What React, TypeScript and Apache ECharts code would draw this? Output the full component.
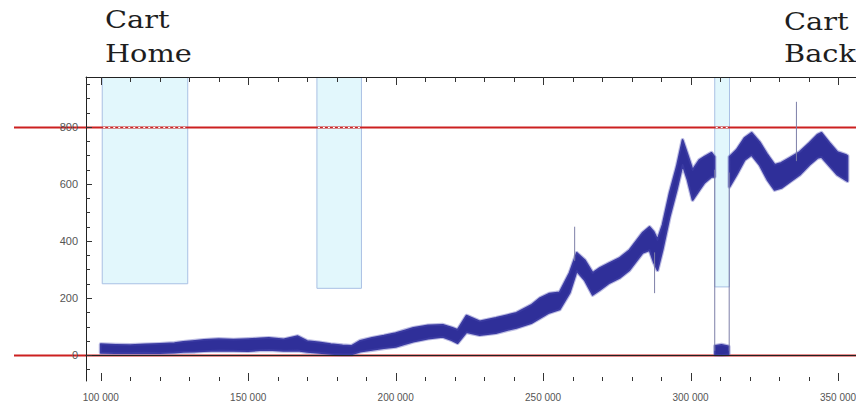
import React, { useEffect, useRef } from 'react';
import * as echarts from 'echarts';

// ---- axis ticks / labels ----
const xMajorTicks = [100000, 150000, 200000, 250000, 300000, 350000];
const xMinorTicks = [110000, 120000, 130000, 140000, 160000, 170000, 180000, 190000, 210000, 220000, 230000, 240000, 260000, 270000, 280000, 290000, 310000, 320000, 330000, 340000];
const yMajorTicks = [0, 200, 400, 600, 800];
const yMinorTicks = [-50, 50, 100, 150, 250, 300, 350, 450, 500, 550, 650, 700, 750, 850, 900, 950];

// ---- main band (lower / upper envelope of the noisy trace) ----
const seg1X = [100000, 105000, 110000, 115000, 120000, 125000, 128000, 132000, 135000, 140000, 145000, 150000, 154000, 157000, 162000, 166800, 170000, 174000, 178000, 182000, 185000, 188000, 192000, 196000, 200000, 203000, 206000, 211000, 216000, 219000, 221000, 224000, 228500, 234000, 238000, 241000, 246000, 249000, 252000, 255600, 259000, 261400, 264100, 266800, 269200, 272500, 275900, 279300, 283700, 286100, 287500, 288800, 290500, 292900, 295300, 297300, 299000, 300700, 303000, 304700, 307100, 308100];
const seg1Lo = [8, 7, 7, 8, 7, 9, 11, 12, 14, 16, 15, 14, 17, 18, 15, 16, 11, 8, 4, 2, 2, 12, 18, 24, 29, 38, 47, 58, 64, 52, 42, 80, 70, 77, 88, 95, 112, 130, 148, 160, 218, 295, 263, 211, 228, 253, 270, 298, 358, 368, 326, 298, 368, 484, 579, 667, 614, 544, 579, 604, 625, 625];
const seg1Hi = [38, 36, 35, 37, 39, 42, 46, 50, 53, 56, 54, 56, 58, 60, 55, 66, 49, 44, 38, 34, 32, 50, 60, 68, 77, 86, 95, 104, 106, 96, 88, 138, 118, 130, 140, 148, 175, 200, 215, 220, 288, 358, 333, 288, 305, 323, 340, 368, 428, 449, 432, 404, 456, 568, 660, 754, 702, 649, 684, 695, 709, 695];

const seg2X = [308300, 310500, 312900];
const seg2Lo = [2, 0, 3];
const seg2Hi = [32, 36, 30];

const seg3X = [313200, 315600, 318300, 320700, 323400, 326100, 328500, 330800, 333600, 337000, 340300, 343000, 344400, 347100, 349800, 352600, 353200];
const seg3Lo = [590, 632, 684, 702, 667, 614, 579, 586, 607, 632, 667, 691, 695, 663, 632, 614, 610];
const seg3Hi = [695, 719, 761, 779, 747, 702, 667, 674, 691, 712, 744, 772, 779, 744, 712, 702, 698];

// ---- thin single-sample excursions ----
const spikeX = [260700, 287800, 335900, 308200, 313100];
const spikeFrom = [330, 360, 680, 650, 15];
const spikeTo = [450, 217, 888, 15, 640];

// ---- shaded windows ----
const rectStart = [100500, 173300, 308200];
const rectEnd = [129500, 188400, 313200];
const rectBottom = [250, 234, 239];

// ---- reference levels ----
const refLevels = [0, 800];

const X_MIN = 95000;
const X_MAX = 356100;
const Y_MIN = -91;
const Y_MAX = 975;

const segments = [
  { x: seg1X, lo: seg1Lo, hi: seg1Hi },
  { x: seg2X, lo: seg2Lo, hi: seg2Hi },
  { x: seg3X, lo: seg3Lo, hi: seg3Hi },
];

const fmtX = (v: number) => String(v).replace(/\B(?=(\d{3})+(?!\d))/g, ' ');

const axisColor = '#222';
const tickColor = '#333';

// tick marks drawn through the axes' own scales
function tickSeries(values: number[], dir: 'bottom' | 'top' | 'left', len: number) {
  return {
    type: 'custom', z: 6, clip: false, silent: true,
    xAxisIndex: 0, yAxisIndex: 0,
    data: values.map((v) => (dir === 'left' ? [X_MIN, v] : [v, dir === 'bottom' ? Y_MIN : Y_MAX])),
    encode: { x: 0, y: 1 },
    renderItem: (params: any, api: any) => {
      const v = values[params.dataIndex];
      if (dir === 'left') {
        const p = api.coord([X_MIN, v]);
        const y = Math.round(p[1]) + 0.5;
        return { type: 'line', shape: { x1: p[0], y1: y, x2: p[0] + len, y2: y }, style: { stroke: tickColor, lineWidth: 1 } };
      }
      const p = api.coord([v, dir === 'bottom' ? Y_MIN : Y_MAX]);
      const x = Math.round(p[0]) + 0.5;
      const sgn = dir === 'bottom' ? -1 : 1;
      return { type: 'line', shape: { x1: x, y1: p[1], x2: x, y2: p[1] + sgn * len }, style: { stroke: tickColor, lineWidth: 1 } };
    },
  };
}

export default function App() {
  const ref = useRef<HTMLDivElement>(null);
  useEffect(() => {
    const chart = echarts.init(ref.current!, null, { renderer: 'svg' });
    const option: any = {
      animation: false,
      backgroundColor: '#ffffff',
      grid: { left: 86, right: 0, top: 77, bottom: 30, containLabel: false, outerBoundsMode: 'none' },
      xAxis: [
        {
          type: 'value', min: X_MIN, max: X_MAX, position: 'bottom', z: 5,
          axisLine: { show: true, lineStyle: { color: axisColor, width: 1 } },
          axisTick: { show: false },
          axisLabel: { show: true, customValues: xMajorTicks, formatter: fmtX, fontSize: 10, color: '#555', margin: 11, fontFamily: 'Liberation Sans', hideOverlap: false },
          splitLine: { show: false },
        },
        {
          type: 'value', min: X_MIN, max: X_MAX, position: 'top', z: 5,
          axisLine: { show: true, lineStyle: { color: axisColor, width: 1 } },
          axisTick: { show: false },
          axisLabel: { show: false },
          splitLine: { show: false },
        },
      ],
      yAxis: [
        {
          type: 'value', min: Y_MIN, max: Y_MAX, position: 'left', z: 5,
          axisLine: { show: true, lineStyle: { color: axisColor, width: 1 } },
          axisTick: { show: false },
          axisLabel: { show: true, customValues: yMajorTicks, fontSize: 11, color: '#555', margin: 8, fontFamily: 'Liberation Sans' },
          splitLine: { show: false },
        },
      ],
      series: [
        {
          type: 'custom', name: 'windows', z: 1, clip: true, silent: true,
          xAxisIndex: 0, yAxisIndex: 0,
          data: rectStart.map((s, i) => [s, rectEnd[i], rectBottom[i]]),
          encode: { x: [0, 1], y: 2 },
          renderItem: (params: any, api: any) => {
            const i = params.dataIndex;
            const p0 = api.coord([rectStart[i], Y_MAX + 40]);
            const p1 = api.coord([rectEnd[i], rectBottom[i]]);
            return {
              type: 'rect',
              shape: { x: p0[0], y: p0[1], width: p1[0] - p0[0], height: p1[1] - p0[1] },
              style: { fill: '#e2f7fc', stroke: '#a9c0e4', lineWidth: 1 },
            };
          },
        },
        {
          type: 'custom', name: 'band', z: 3, clip: true, silent: true,
          xAxisIndex: 0, yAxisIndex: 0,
          data: segments.map((s) => [s.x[0], s.hi[0]]),
          encode: { x: 0, y: 1 },
          renderItem: (params: any, api: any) => {
            const s = segments[params.dataIndex];
            const top = s.x.map((x, k) => api.coord([x, s.hi[k]]));
            const bot = s.x.map((x, k) => api.coord([x, s.lo[k]])).reverse();
            const pts = top.concat(bot);
            return {
              type: 'group',
              children: [
                { type: 'polygon', shape: { points: pts }, style: { fill: 'none', stroke: '#6a6ac0', lineWidth: 4, lineJoin: 'round', opacity: 0.45 } },
                { type: 'polygon', shape: { points: pts }, style: { fill: '#2f2f99', stroke: '#3a3aa2', lineWidth: 1.8, lineJoin: 'round' } },
              ],
            };
          },
        },
        {
          type: 'custom', name: 'spikes', z: 3, clip: true, silent: true,
          xAxisIndex: 0, yAxisIndex: 0,
          data: spikeX.map((x, i) => [x, spikeTo[i]]),
          encode: { x: 0, y: 1 },
          renderItem: (params: any, api: any) => {
            const i = params.dataIndex;
            const a = api.coord([spikeX[i], spikeFrom[i]]);
            const b = api.coord([spikeX[i], spikeTo[i]]);
            return {
              type: 'line',
              shape: { x1: a[0], y1: a[1], x2: b[0], y2: b[1] },
              style: { stroke: '#7d7fa8', lineWidth: 1 },
            };
          },
        },
        tickSeries(xMajorTicks, 'bottom', 8),
        tickSeries(xMinorTicks, 'bottom', 4),
        tickSeries(xMajorTicks, 'top', 8),
        tickSeries(xMinorTicks, 'top', 5),
        tickSeries(yMajorTicks, 'left', 6),
        tickSeries(yMinorTicks, 'left', 4),
      ],
    };
    chart.setOption(option);

    const yPx = (v: number) => chart.convertToPixel({ yAxisIndex: 0 }, v) as number;
    const xPx = (v: number) => chart.convertToPixel({ xAxisIndex: 0 }, v) as number;
    const graphics: any[] = [];
    refLevels.forEach((v) => {
      const y = Math.round(yPx(v)) + 0.5;
      graphics.push({ type: 'line', z: 2, silent: true, shape: { x1: 14, y1: y, x2: 856, y2: y }, style: { stroke: '#cc2020', lineWidth: 2 } });
    });
    const y800 = Math.round(yPx(800)) + 0.5;
    rectStart.forEach((s, i) => {
      graphics.push({ type: 'line', z: 2, z2: 5, silent: true, shape: { x1: xPx(s) + 1, y1: y800, x2: xPx(rectEnd[i]) - 1, y2: y800 }, style: { stroke: '#ffffff', lineWidth: 1.2, lineDash: [2, 3] } });
    });
    graphics.push({ type: 'text', z: 10, x: 105, y: 2, scaleX: 1.2, style: { text: 'Cart\nHome', fontSize: 24, fontFamily: 'DejaVu Serif', fill: '#1e1e1e', lineHeight: 34 } });
    graphics.push({ type: 'text', z: 10, x: 784, y: 5, scaleX: 1.2, style: { text: 'Cart\nBack', fontSize: 24, fontFamily: 'DejaVu Serif', fill: '#1e1e1e', lineHeight: 32 } });
    chart.setOption({ graphic: graphics });

    return () => chart.dispose();
  }, []);
  return <div ref={ref} style={{ position: 'absolute', left: 0, top: 0, width: 856, height: 411 }} />;
}
